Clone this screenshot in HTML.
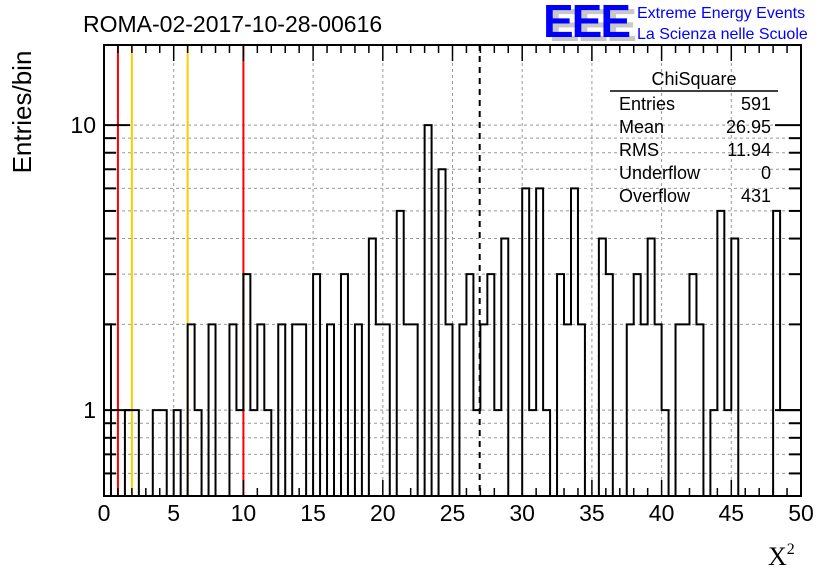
<!DOCTYPE html>
<html><head><meta charset="utf-8"><style>
html,body{margin:0;padding:0;background:#fff;}
svg{display:block;font-family:"Liberation Sans",Arial,sans-serif;}
</style></head><body>
<svg id="c" width="836" height="572" viewBox="0 0 836 572">
<text x="83" y="32" font-size="23" fill="#000">ROMA-02-2017-10-28-00616</text>
<g>
<text x="549" y="41" font-size="46" font-weight="bold" fill="#c8c8c8" letter-spacing="-2">EEE</text>
<text x="543" y="37" font-size="46" font-weight="bold" fill="#0000ff" letter-spacing="-2">EEE</text>
<text x="637" y="18" font-size="16" fill="#0000ff">Extreme Energy Events</text>
<text x="637" y="39" font-size="16" fill="#0000ff">La Scienza nelle Scuole</text>
</g>
<text transform="translate(31,112) rotate(-90)" text-anchor="middle" font-size="26" fill="#000">Entries/bin</text>
<text x="768" y="565" font-size="26" font-family="Liberation Serif,serif" fill="#000">X<tspan font-size="16" dy="-11">2</tspan></text>
<g id="grid"></g><g id="marks"></g><g id="axes"></g>
<g font-size="18" fill="#000">
<text x="694" y="85" text-anchor="middle">ChiSquare</text>
<line x1="610" y1="91" x2="778" y2="91" stroke="#000" stroke-width="1.5"/>
<text x="619" y="110">Entries</text><text x="771" y="110" text-anchor="end">591</text>
<text x="619" y="133">Mean</text><text x="771" y="133" text-anchor="end">26.95</text>
<text x="619" y="156">RMS</text><text x="771" y="156" text-anchor="end">11.94</text>
<text x="619" y="179">Underflow</text><text x="771" y="179" text-anchor="end">0</text>
<text x="619" y="202">Overflow</text><text x="771" y="202" text-anchor="end">431</text>
</g>
</svg>
<script>
const binCounts=[2,0,0,1,1,0,0,1,1,0,1,0,2,1,0,2,0,0,2,1,3,1,2,1,0,2,0,2,2,0,3,0,2,0,3,0,2,0,4,2,2,0,5,2,2,0,10,0,7,2,0,2,3,1,2,3,1,4,0,0,6,1,6,1,0,3,2,6,2,0,0,4,3,0,0,2,3,2,4,2,1,0,2,2,3,2,0,1,5,1,4,0,0,0,0,0,5,1,1,1];
const xTicks=[0,5,10,15,20,25,30,35,40,45,50];
const yTicks=[1,10];
const redLines=[1,10];
const yellowLines=[2,6];
const meanValue=26.95;
const binWidth=0.5;
const NS="http://www.w3.org/2000/svg";
const X0=104,X1=801,Y0=496,Y1=45,XMIN=0,XMAX=50,YMIN=0.5,YMAX=19.1;
function xs(v){return X0+(v-XMIN)/(XMAX-XMIN)*(X1-X0);}
function ys(v){const lv=Math.log10(Math.max(v,YMIN));return Y0-(lv-Math.log10(YMIN))/(Math.log10(YMAX)-Math.log10(YMIN))*(Y0-Y1);}
function mk(tag,attrs,parent){const e=document.createElementNS(NS,tag);for(const k in attrs)e.setAttribute(k,attrs[k]);parent.appendChild(e);return e;}
const grid=document.getElementById('grid'),marks=document.getElementById('marks'),axes=document.getElementById('axes');
xTicks.forEach(t=>{if(t>XMIN&&t<XMAX){const l=mk('line',{x1:xs(t),x2:xs(t),y1:Y1,y2:Y0,stroke:'#999','stroke-dasharray':'3,3','stroke-width':1},grid);

}});
const ygrid=[0.6,0.7,0.8,0.9,1,2,3,4,5,6,7,8,9,10];
ygrid.forEach(v=>{const l=mk('line',{x1:X0,x2:X1,y1:ys(v),y2:ys(v),stroke:'#999','stroke-dasharray':'3,3','stroke-width':1},grid);

});
redLines.forEach(v=>{const l=mk('line',{x1:xs(v),x2:xs(v),y1:Y1,y2:Y0,stroke:'#ff0000','stroke-width':2},marks);

});
yellowLines.forEach(v=>{const l=mk('line',{x1:xs(v),x2:xs(v),y1:Y1,y2:Y0,stroke:'#ffcc00','stroke-width':2},marks);

});
let d='M'+xs(0)+','+Y0;
binCounts.forEach((c,i)=>{const y=c>0?ys(c):Y0;d+=' L'+xs(i*binWidth)+','+y+' L'+xs((i+1)*binWidth)+','+y;});
d+=' L'+xs(binCounts.length*binWidth)+','+Y0;
const h=mk('path',{d:d,fill:'none',stroke:'#000','stroke-width':2},marks);


const ml=mk('line',{x1:xs(meanValue),x2:xs(meanValue),y1:Y1,y2:Y0,stroke:'#000','stroke-width':2,'stroke-dasharray':'6,5'},marks);


const fr=mk('rect',{x:X0,y:Y1,width:X1-X0,height:Y0-Y1,fill:'none',stroke:'#000','stroke-width':2},axes);


for(let v=XMIN;v<=XMAX;v+=1){const major=v%5===0;const len=major?16:8;
mk('line',{x1:xs(v),x2:xs(v),y1:Y0,y2:Y0-len,stroke:'#000','stroke-width':1.5},axes);
mk('line',{x1:xs(v),x2:xs(v),y1:Y1,y2:Y1+len,stroke:'#000','stroke-width':1.5},axes);}
xTicks.forEach(t=>{const tx=mk('text',{x:xs(t),y:521,'text-anchor':'middle','font-size':23,fill:'#000'},axes);tx.textContent=t;

});
ygrid.forEach(v=>{if(v>YMAX)return;const major=yTicks.includes(v);const len=major?26:12;
mk('line',{x1:X0,x2:X0+len,y1:ys(v),y2:ys(v),stroke:'#000','stroke-width':2},axes);
mk('line',{x1:X1,x2:X1-len,y1:ys(v),y2:ys(v),stroke:'#000','stroke-width':2},axes);});
yTicks.forEach(t=>{const tx=mk('text',{x:96,y:ys(t)+8,'text-anchor':'end','font-size':23,fill:'#000'},axes);tx.textContent=t;

});
</script>
</body></html>
